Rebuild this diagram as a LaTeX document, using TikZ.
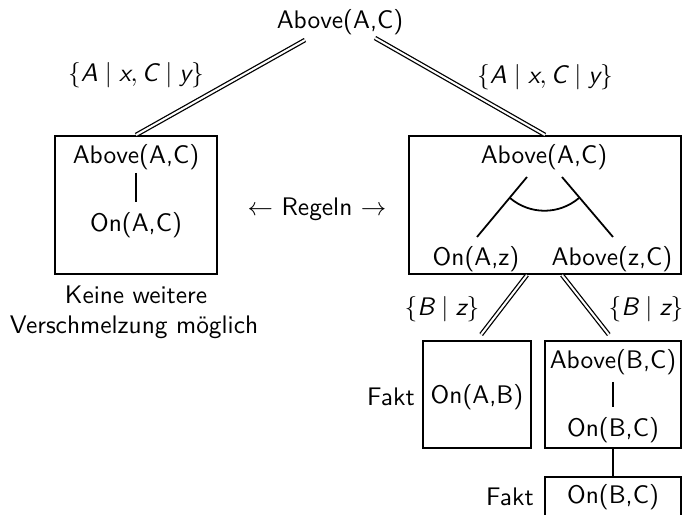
\documentclass[tikz,border=0pt]{standalone}
\begin{document}
\def\pxu{0.3937pt}
\begin{tikzpicture}[x=0.3937pt,y=-0.3937pt,
  every node/.style={font=\sffamily, inner sep=0pt},
  txt/.style={anchor=base},
  boxx/.style={draw, line width=0.8pt, rectangle},
  dbl/.style={double, line width=0.5pt, double distance=0.8pt},
  ln/.style={line width=0.7pt}]
\useasboundingbox (0,0) rectangle (687,515);
% top
\node[txt] (top) at (340,29) {Above(A,C)};
\node[txt] (l1) at (136,82) {$\{\textit{A}\mid\textit{x}, \textit{C}\mid\textit{y}\}$};
\node[txt] (l2) at (545,84) {$\{\textit{A}\mid\textit{x}, \textit{C}\mid\textit{y}\}$};
% left box
\node[boxx, minimum width=162*\pxu, minimum height=138*\pxu] (lbox) at (136,205) {};
\node[txt] (la) at (136,164) {Above(A,C)};
\node[txt] (lo) at (136,232) {On(A,C)};
\coordinate (lb1) at (136,173);
\coordinate (lb2) at (136,202);
\draw[ln] (lb1) -- (lb2);
\node[txt] (k1) at (136,304) {Keine weitere};
\node[txt] (k2) at (134,334) {Verschmelzung möglich};
\node[txt] (reg) at (317,216) {$\leftarrow$ Regeln $\rightarrow$};
% right box
\node[boxx, minimum width=272*\pxu, minimum height=138*\pxu] (rbox) at (545,205) {};
\node[txt] (ra) at (544,164) {Above(A,C)};
\node[txt] (ron) at (476,266) {On(A,z)};
\node[txt] (rab) at (612,266) {Above(z,C)};
\coordinate (ra1) at (527,177);
\coordinate (ra2) at (477,237);
\coordinate (rb1) at (562,177);
\coordinate (rb2) at (613,237);
\coordinate (arcL) at (510,198);
\coordinate (arcR) at (579,198);
\draw[ln] (ra1) -- (ra2);
\draw[ln] (rb1) -- (rb2);
\draw[ln] (arcL) .. controls (530,215) and (559,215) .. (arcR);
% top connectors
\coordinate (t1) at (305,40);
\coordinate (t2) at (375,38);
\draw[dbl] (t1) -- (lbox.north);
\draw[dbl] (t2) -- (rbox.north);
% lower boxes
\node[boxx, minimum width=108*\pxu, minimum height=107*\pxu] (f1) at (477,394.5) {};
\node[txt] (f1t) at (477,404) {On(A,B)};
\node[txt] (fk1) at (391,406) {Fakt};
\node[boxx, minimum width=136*\pxu, minimum height=107*\pxu] (f2) at (613,394.5) {};
\node[txt] (f2a) at (613,369) {Above(B,C)};
\node[txt] (f2o) at (613,437) {On(B,C)};
\coordinate (fb1) at (613,382);
\coordinate (fb2) at (613,407);
\draw[ln] (fb1) -- (fb2);
\node[boxx, minimum width=136*\pxu, minimum height=66*\pxu] (f3) at (613,510) {};
\node[txt] (f3t) at (613,504) {On(B,C)};
\node[txt] (fk2) at (510,506) {Fakt};
\draw[ln] (f2.south) -- (f3.north);
% lower double connectors
\coordinate (r1) at (527,275);
\coordinate (r2) at (562,275);
\draw[dbl, shorten >=2.7pt] (r1) -- (f1.north);
\draw[dbl, shorten >=2.7pt] (r2) -- (f2.north);
\node[txt] (l3) at (442,316) {$\{\textit{B}\mid\textit{z}\}$};
\node[txt] (l4) at (646,316) {$\{\textit{B}\mid\textit{z}\}$};
\end{tikzpicture}
\end{document}
